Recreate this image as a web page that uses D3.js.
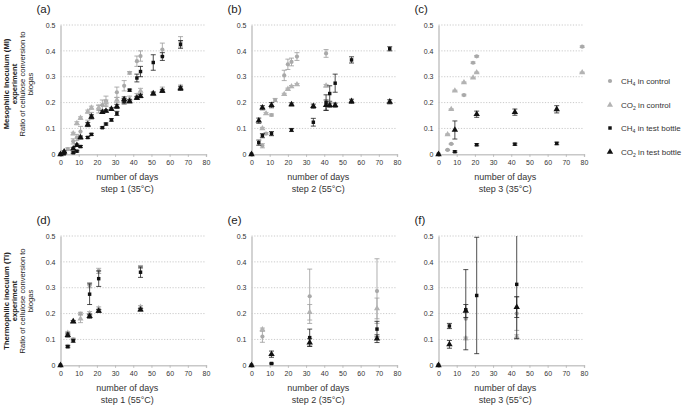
<!DOCTYPE html>
<html><head><meta charset="utf-8">
<script src="https://cdn.jsdelivr.net/npm/d3@7"></script>
<style>body{margin:0;background:#fff;} svg{font-family:"Liberation Sans",Arial,sans-serif;}</style>
</head><body><svg id="c" width="685" height="405"></svg>
<script>
// ---------- DATA: each point = [day, ratio, sd] ----------
const xTicks = [0,10,20,30,40,50,60,70,80];
const yTicks = [0,0.1,0.2,0.3,0.4,0.5];
const seriesNames = [["CH","4"," in control"],["CO","2"," in control"],["CH","4"," in test bottle"],["CO","2"," in test bottle"]];
const panelLabels = ["(a)","(b)","(c)","(d)","(e)","(f)"];
const stepLabels = ["step 1 (35°C)","step 2 (55°C)","step 3 (35°C)","step 1 (55°C)","step 2 (35°C)","step 3 (55°C)"];
const rowTitles = [["Mesophilic Inoculum (MI)","experiment"],["Thermophilic inoculum (TI)","experiment"]];
const yTitle = ["Ratio of cellulose conversion to","biogas"];

// (a) MI step 1 35°C
const aCH4c = [[0,0,0],[4,0.02,0.005],[7,0.05,0.01],[9,0.065,0.012],[11,0.088,0.02],[15,0.12,0.012],[17,0.15,0.012],[21,0.175,0.015],[23,0.19,0.02],[25,0.205,0.02],[31,0.24,0.02],[35,0.265,0.02],[38,0.315,0.005],[42,0.36,0.02],[44,0.38,0.02],[56,0.405,0.025],[66,0.435,0.02]];
const aCO2c = [[0,0,0],[2,0.01,0.004],[7,0.08,0.005],[9,0.12,0.006],[11,0.14,0.005],[15,0.165,0.006],[17,0.18,0.006],[21,0.18,0.01],[25,0.2,0.01],[31,0.21,0.01],[35,0.205,0.01],[38,0.215,0.01],[42,0.225,0.01],[44,0.245,0.01],[51,0.235,0.008],[56,0.25,0.01],[66,0.26,0.008]];
const aCH4t = [[0,0,0],[2,0.002,0.002],[7,0.006,0.003],[9,0.012,0.003],[11,0.03,0.004],[15,0.065,0.004],[17,0.077,0.004],[23,0.103,0.003],[25,0.117,0.004],[28,0.133,0.005],[31,0.158,0.008],[35,0.205,0.01],[38,0.248,0.004],[42,0.295,0.015],[44,0.32,0.02],[51,0.355,0.03],[56,0.378,0.015],[66,0.425,0.015]];
const aCO2t = [[0,0,0],[2,0.01,0.003],[7,0.022,0.005],[9,0.035,0.005],[11,0.065,0.006],[15,0.115,0.008],[17,0.145,0.008],[23,0.163,0.005],[25,0.168,0.005],[28,0.175,0.005],[31,0.185,0.008],[35,0.212,0.01],[38,0.205,0.006],[42,0.218,0.006],[44,0.225,0.006],[51,0.235,0.005],[56,0.245,0.006],[66,0.255,0.008]];
// (b) MI step 2 55°C
const bCH4c = [[0,0,0],[6,0.033,0.008],[8,0.08,0.004],[11,0.152,0.004],[13,0.21,0.006],[18,0.305,0.02],[20,0.348,0.02],[22,0.357,0.015],[25,0.378,0.015],[41,0.39,0.015]];
const bCO2c = [[0,0,0],[6,0.1,0.004],[8,0.158,0.004],[18,0.232,0.004],[20,0.252,0.004],[22,0.262,0.004],[25,0.27,0.004],[41,0.265,0.005]];
const bCH4t = [[0,0,0],[4,0.045,0.01],[6,0.072,0.008],[11,0.08,0.008],[22,0.094,0.006],[34,0.124,0.015],[41,0.2,0.03],[43,0.235,0.03],[46,0.275,0.035],[55,0.365,0.012],[76,0.408,0.008]];
const bCO2t = [[0,0,0],[4,0.13,0.01],[6,0.18,0.008],[11,0.19,0.01],[22,0.193,0.006],[34,0.186,0.008],[41,0.19,0.02],[43,0.19,0.008],[46,0.19,0.008],[55,0.205,0.008],[76,0.203,0.008]];
// (c) MI step 3 35°C
const cCH4c = [[0,0,0],[5,0.017,0.002],[7,0.04,0.002],[14,0.229,0.003],[19,0.354,0.003],[21,0.379,0.003],[79,0.416,0.003]];
const cCO2c = [[0,0,0],[5,0.077,0.002],[7,0.174,0.002],[9,0.246,0.002],[14,0.278,0.002],[19,0.296,0.002],[21,0.316,0.002],[79,0.316,0.002]];
const cCH4t = [[0,0,0],[9,0.01,0.003],[21,0.037,0.004],[42,0.039,0.004],[65,0.042,0.005]];
const cCO2t = [[0,0,0],[9,0.094,0.035],[21,0.155,0.012],[42,0.163,0.012],[65,0.174,0.014]];
// (d) TI step 1 55°C
const dCH4c = [[0,0,0],[4,0.075,0.004],[7,0.1,0.005],[11,0.2,0.005],[16,0.31,0.01],[21,0.365,0.01],[44,0.38,0.006]];
const dCO2c = [[0,0,0],[4,0.125,0.006],[7,0.17,0.004],[11,0.18,0.015],[16,0.2,0.008],[21,0.22,0.006],[44,0.225,0.006]];
const dCH4t = [[0,0,0],[4,0.072,0.004],[7,0.095,0.006],[16,0.275,0.04],[21,0.335,0.03],[44,0.36,0.02]];
const dCO2t = [[0,0,0],[4,0.117,0.008],[7,0.169,0.004],[16,0.19,0.008],[21,0.21,0.006],[44,0.215,0.005]];
// (e) TI step 2 35°C
const eCH4c = [[0,0,0],[6,0.111,0.022],[32,0.267,0.105],[69,0.287,0.125]];
const eCO2c = [[0,0,0],[6,0.138,0.006],[32,0.205,0.03],[69,0.22,0.04]];
const eCH4t = [[0,0,0],[11,0.007,0.002],[32,0.107,0.033],[69,0.14,0.03]];
const eCO2t = [[0,0,0],[11,0.043,0.012],[32,0.088,0.015],[69,0.103,0.015]];
// (f) TI step 3 55°C
const fCH4c = [[0,0,0],[15,0.18,0.0],[43,0.2,0.065]];
const fCO2c = [[0,0,0],[15,0.104,0.005],[43,0.11,0.008]];
const fCH4t = [[0,0,0],[6,0.152,0.01],[15,0.215,0.155],[21,0.27,0.225],[43,0.313,0.21]];
const fCO2t = [[0,0,0],[6,0.081,0.015],[15,0.21,0.025],[43,0.225,0.04]];

const panelData = [
  [aCH4c,aCO2c,aCH4t,aCO2t],[bCH4c,bCO2c,bCH4t,bCO2t],[cCH4c,cCO2c,cCH4t,cCO2t],
  [dCH4c,dCO2c,dCH4t,dCO2t],[eCH4c,eCO2c,eCH4t,eCO2t],[fCH4c,fCO2c,fCH4t,fCO2t]
];

// ---------- LAYOUT ----------
const colLeft = [60.5, 251.5, 438.5];
const rowTop = [25, 236];
const pw = 145.5, ph = 129.3;
const styles = [
  {sym:d3.symbolCircle, size:14, fill:"#a9a9a9", err:"#9a9a9a"},
  {sym:d3.symbolTriangle, size:16, fill:"#b3b3b3", err:"#a0a0a0"},
  {sym:d3.symbolSquare, size:12, fill:"#111", err:"#222"},
  {sym:d3.symbolTriangle, size:18, fill:"#111", err:"#222"}
];

const svg = d3.select("#c");

panelData.forEach((series, i) => {
  const col = i % 3, row = Math.floor(i / 3);
  const L = colLeft[col], T = rowTop[row];
  const x = d3.scaleLinear().domain([0,80]).range([L, L + pw]);
  const y = d3.scaleLinear().domain([0,0.5]).range([T + ph, T]);
  const g = svg.append("g");

  g.selectAll(".grid").data(yTicks.filter(v => v > 0)).join("line")
    .attr("x1", x(0)).attr("x2", x(80)).attr("y1", d => y(d)).attr("y2", d => y(d))
    .attr("stroke", "#bdbdbd").attr("stroke-width", 0.8).attr("stroke-dasharray", "1.2,1.6");

  const xa = g.append("g").attr("transform", `translate(0,${y(0)})`)
    .call(d3.axisBottom(x).tickValues(xTicks).tickSize(2.5).tickPadding(3).tickFormat(d3.format("d")));
  xa.select(".domain").attr("stroke", "#c8c8c8").attr("stroke-width", 1.4);
  xa.selectAll(".tick line").attr("stroke", "#bbb");
  xa.selectAll("text").attr("font-size", 7).attr("fill", "#333").attr("font-family", "Liberation Sans, Arial, sans-serif");

  const ya = g.append("g").attr("transform", `translate(${x(0)},0)`)
    .call(d3.axisLeft(y).tickValues(yTicks).tickSize(0).tickPadding(5).tickFormat(d => d === 0 ? "0" : d3.format(".1f")(d)));
  ya.select(".domain").attr("stroke", "#c8c8c8").attr("stroke-width", 1.6);
  ya.selectAll("text").attr("font-size", 7).attr("fill", "#333").attr("font-family", "Liberation Sans, Arial, sans-serif");

  g.append("text").attr("x", L - 24).attr("y", T - 12).attr("font-size", 11.5).attr("fill", "#222").text(panelLabels[i]);

  const cx = L + pw / 2 - 6;
  g.append("text").attr("x", cx).attr("y", T + ph + 26).attr("text-anchor", "middle")
    .attr("font-size", 9).attr("fill", "#333").text("number of days");
  g.append("text").attr("x", cx).attr("y", T + ph + 38).attr("text-anchor", "middle")
    .attr("font-size", 9).attr("fill", "#333").text(stepLabels[i]);

  series.forEach((pts, s) => {
    const st = styles[s];
    const eb = g.append("g");
    pts.filter(p => p[2] > 0).forEach(p => {
      const top = y(Math.min(0.5, p[1] + p[2])), bot = y(Math.max(0, p[1] - p[2]));
      eb.append("line").attr("x1", x(p[0])).attr("x2", x(p[0])).attr("y1", top).attr("y2", bot)
        .attr("stroke", st.err).attr("stroke-width", 0.8);
      [p[1] + p[2], p[1] - p[2]].forEach(v => {
        if (v > 0.5 || v < 0) return;
        eb.append("line").attr("x1", x(p[0]) - 2.5).attr("x2", x(p[0]) + 2.5)
          .attr("y1", y(v)).attr("y2", y(v)).attr("stroke", st.err).attr("stroke-width", 0.8);
      });
    });
    g.append("g").selectAll("path").data(pts).join("path")
      .attr("transform", p => `translate(${x(p[0])},${y(p[1])})`)
      .attr("d", d3.symbol().type(st.sym).size(st.size))
      .attr("fill", st.fill);
  });
});

// row titles (vertical)
rowTitles.forEach((lines, r) => {
  const cy = r === 0 ? 84 : 301;
  const xs = [6.5, 14.5, 22.5, 30.5];
  const all = [lines[0], lines[1], yTitle[0], yTitle[1]];
  all.forEach((t, k) => {
    svg.append("text").attr("transform", `translate(${xs[k]},${cy}) rotate(-90)`)
      .attr("text-anchor", "middle").attr("dominant-baseline", "central")
      .attr("font-size", 7.6).attr("font-weight", k < 2 ? "bold" : "normal")
      .attr("fill", "#222").text(t);
  });
});

// legend
const legY = [83, 107, 130, 154];
seriesNames.forEach((n, k) => {
  const st = styles[k];
  svg.append("path").attr("transform", `translate(610,${legY[k] - 2})`)
    .attr("d", d3.symbol().type(st.sym).size(st.size)).attr("fill", st.fill);
  const t = svg.append("text").attr("x", 621).attr("y", legY[k] + 1).attr("font-size", 8).attr("fill", "#333");
  t.append("tspan").text(n[0]);
  t.append("tspan").attr("font-size", 5.2).attr("dy", 2).text(n[1]);
  t.append("tspan").attr("dy", -2).text(n[2]);
});
</script></body></html>
